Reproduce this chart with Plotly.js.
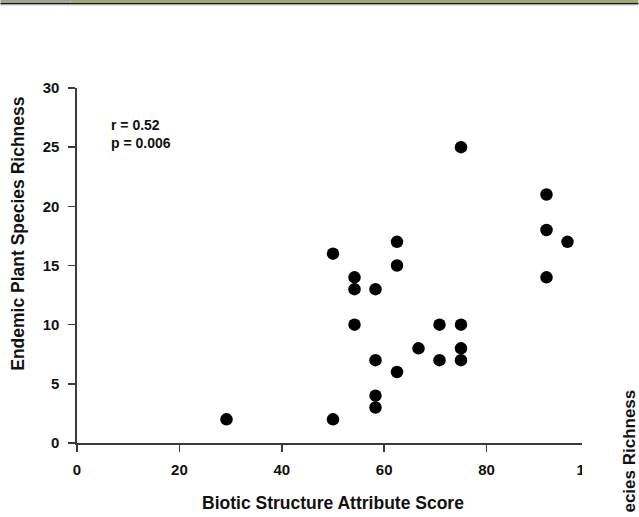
<!DOCTYPE html>
<html>
<head>
<meta charset="utf-8">
<script src="https://cdn.plot.ly/plotly-3.0.1.min.js"></script>
<style>html,body{margin:0;padding:0;background:#fff;}#chart{width:639px;height:517px;}</style>
</head>
<body>
<div id="chart"></div>
<script>
// Biotic Structure Attribute Score (x) vs Endemic Plant Species Richness (y)
const bioticScore = [29.2, 50, 50, 54.2, 54.2, 54.2, 58.3, 58.3, 58.3, 58.3, 62.5, 62.5, 62.5, 66.7, 70.8, 70.8, 75, 75, 75, 75, 91.7, 91.7, 91.7, 95.8];
const endemicRichness = [2, 2, 16, 14, 13, 10, 13, 7, 4, 3, 17, 15, 6, 8, 10, 7, 25, 10, 8, 7, 21, 18, 14, 17];
const xTicks = [0, 20, 40, 60, 80, 100];
const yTicks = [0, 5, 10, 15, 20, 25, 30];
const statsLines = ["r = 0.52", "p = 0.006"];

const W = 639, H = 517;
const L = 76.7, R = 589.5, T = 88, B = 443.3;
const px = x => (x - L) / (R - L);
const py = y => (B - y) / (B - T);

const font = "Arial, 'Liberation Sans', sans-serif";
const axisColor = "#3a3a3a";

const trace = {
  x: bioticScore, y: endemicRichness, type: "scatter", mode: "markers",
  marker: {size: 12.5, color: "#000", line: {width: 0}},
  cliponaxis: false, hoverinfo: "none"
};

const layout = {
  width: W, height: H,
  margin: {l: L, r: W - R, t: T, b: H - B, pad: 0},
  paper_bgcolor: "#fff", plot_bgcolor: "#fff",
  showlegend: false,
  font: {family: font, color: "#111"},
  xaxis: {
    range: [0, 100], tickvals: xTicks, ticktext: xTicks.map(String),
    showgrid: false, zeroline: false, showline: true, linecolor: axisColor, linewidth: 1.6,
    ticks: "outside", ticklen: 7, tickwidth: 1.6, tickcolor: axisColor,
    tickfont: {family: font, size: 15, color: "#111", weight: "bold"},
    ticklabelstandoff: 5, fixedrange: true
  },
  yaxis: {
    range: [0, 30], tickvals: yTicks, ticktext: yTicks.map(String),
    showgrid: false, zeroline: false, showline: true, linecolor: axisColor, linewidth: 1.6,
    ticks: "outside", ticklen: 7, tickwidth: 1.6, tickcolor: axisColor,
    tickfont: {family: font, size: 15, color: "#111", weight: "bold"},
    ticklabelstandoff: 6, fixedrange: true
  },
  shapes: [
    // top decorative band of the source figure
    {type: "rect", xref: "paper", yref: "paper", x0: px(0), x1: px(70), y0: py(0), y1: py(3), fillcolor: "#9ea590", line: {width: 0}, layer: "above"},
    {type: "rect", xref: "paper", yref: "paper", x0: px(70), x1: px(W), y0: py(0), y1: py(3), fillcolor: "#a5a676", line: {width: 0}, layer: "above"},
    {type: "line", xref: "paper", yref: "paper", x0: px(0), x1: px(W), y0: py(3.6), y1: py(3.6), line: {color: "#111", width: 1.4}, layer: "above"},
    {type: "line", xref: "paper", yref: "paper", x0: px(0), x1: px(W), y0: py(4.8), y1: py(4.8), line: {color: "#999", width: 0.8}, layer: "above"},
    // crop edge of the source figure at right
    {type: "rect", xref: "paper", yref: "paper", x0: px(582.5), x1: px(W + 2), y0: py(H + 2), y1: py(60), fillcolor: "#fff", line: {width: 0}, layer: "above"}
  ],
  annotations: [
    {xref: "paper", yref: "paper", x: px(109), y: py(125), xanchor: "left", yanchor: "middle", showarrow: false,
     text: statsLines[0], font: {family: font, size: 14, color: "#111", weight: "bold"}},
    {xref: "paper", yref: "paper", x: px(109), y: py(142.7), xanchor: "left", yanchor: "middle", showarrow: false,
     text: statsLines[1], font: {family: font, size: 14, color: "#111", weight: "bold"}},
    {xref: "paper", yref: "paper", x: px(18), y: py(233.5), xanchor: "center", yanchor: "middle", showarrow: false,
     textangle: -90, text: "Endemic Plant Species Richness", font: {family: font, size: 17.5, color: "#111", weight: "bold"}},
    {xref: "paper", yref: "paper", x: px(333), y: py(503), xanchor: "center", yanchor: "middle", showarrow: false,
     text: "Biotic Structure Attribute Score", font: {family: font, size: 17.5, color: "#111", weight: "bold"}},
    {xref: "paper", yref: "paper", x: px(630), y: py(515), xanchor: "center", yanchor: "bottom", showarrow: false,
     textangle: -90, text: "ecies Richness", font: {family: font, size: 17, color: "#111", weight: "bold"}}
  ]
};

Plotly.newPlot("chart", [trace], layout, {staticPlot: true, displayModeBar: false});
</script>
</body>
</html>
